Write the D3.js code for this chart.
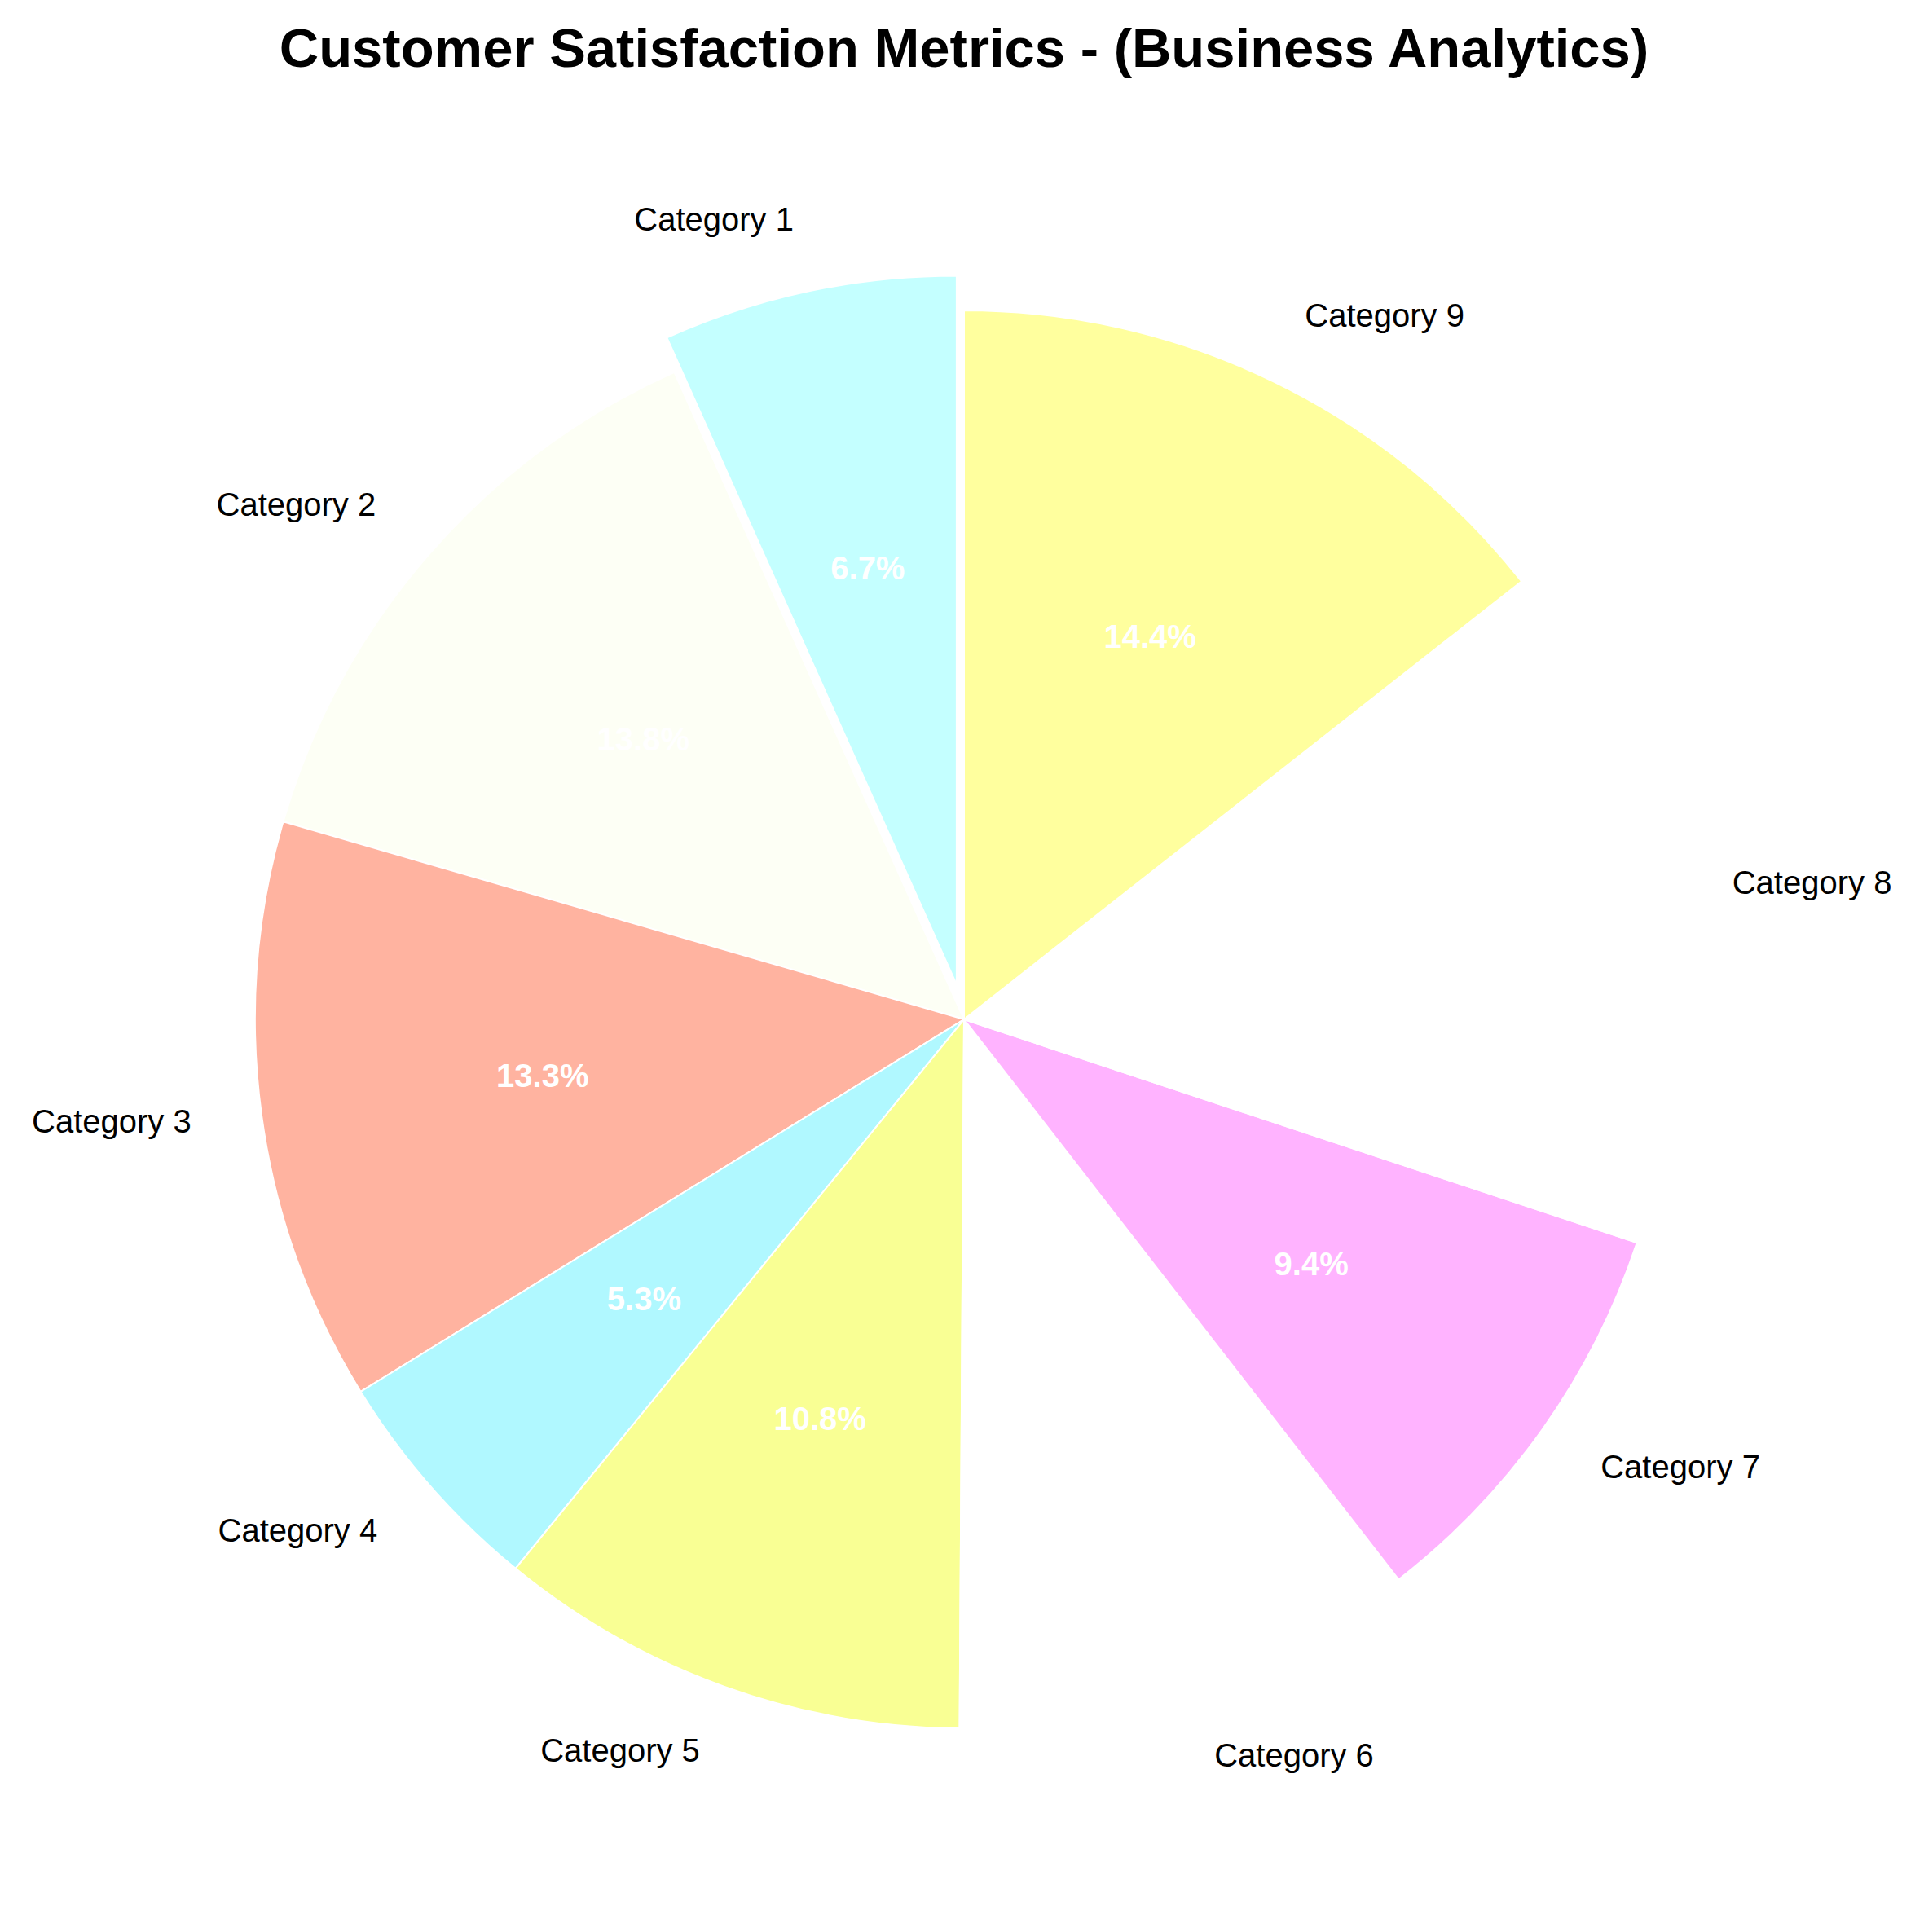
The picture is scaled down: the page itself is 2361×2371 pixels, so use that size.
<!DOCTYPE html>
<html>
<head>
<meta charset="utf-8">
<script src="https://cdn.jsdelivr.net/npm/d3@7"></script>
<style>
  html, body { margin: 0; padding: 0; background: #ffffff; }
  svg { display: block; }
</style>
</head>
<body>
<svg id="chart" width="2361" height="2371"></svg>
<script>
// ---- data ----
const categories = ["Category 1", "Category 2", "Category 3", "Category 4", "Category 5",
                    "Category 6", "Category 7", "Category 8", "Category 9"];
const values = [6.7, 13.8, 13.3, 5.3, 10.8, 10.6, 9.4, 15.7, 14.4];
const explodeFrac = [0.05, 0, 0, 0, 0, 0, 0, 0, 0];
const sliceColors = ["#C4FFFF", "#FDFFF5", "#FFB3A0", "#B0F8FF", "#F9FF94",
                     "#FFFFFF", "#FFB3FF", "#FFFFFF", "#FFFF9E"];
const titleText = "Customer Satisfaction Metrics - (Business Analytics)";

// ---- layout ----
const W = 2361, H = 2371;
const cx = 1183, cy = 1251, R = 870;
const svg = d3.select("#chart");

const color = d3.scaleOrdinal().domain(categories).range(sliceColors);

const data = categories.map((c, i) => ({ cat: c, value: values[i], explode: explodeFrac[i] }));
const total = d3.sum(values);

// matplotlib: start at 12 o'clock, counterclockwise
const pie = d3.pie().value(d => d.value).sort(null).startAngle(0).endAngle(-2 * Math.PI);
const arcs = pie(data);
const arc = d3.arc().innerRadius(0).outerRadius(R);

const g = svg.append("g").attr("transform", `translate(${cx},${cy})`);

function offsetOf(d) {
  const m = (d.startAngle + d.endAngle) / 2;
  const e = d.data.explode * R;
  return [Math.sin(m) * e, -Math.cos(m) * e];
}

g.selectAll("path.slice")
  .data(arcs)
  .enter().append("path")
  .attr("class", "slice")
  .attr("d", arc)
  .attr("transform", d => { const o = offsetOf(d); return `translate(${o[0]},${o[1]})`; })
  .attr("fill", d => color(d.data.cat))
  .attr("stroke", "#ffffff")
  .attr("stroke-width", 2)
  .attr("stroke-linejoin", "round");

const fontFamily = "'Liberation Sans', Arial, Helvetica, sans-serif";

// category labels at 1.1 R
g.selectAll("text.lab")
  .data(arcs)
  .enter().append("text")
  .attr("class", "lab")
  .each(function (d) {
    const m = (d.startAngle + d.endAngle) / 2;
    const o = offsetOf(d);
    const x = o[0] + Math.sin(m) * R * 1.1;
    const y = o[1] - Math.cos(m) * R * 1.1;
    d3.select(this)
      .attr("x", x)
      .attr("y", y + 10.5)
      .attr("text-anchor", x > 0 ? "start" : "end");
  })
  .attr("font-family", fontFamily)
  .attr("font-size", 40)
  .attr("fill", "#000000")
  .text(d => d.data.cat);

// percentage labels at 0.6 R
g.selectAll("text.pct")
  .data(arcs)
  .enter().append("text")
  .attr("class", "pct")
  .each(function (d) {
    const m = (d.startAngle + d.endAngle) / 2;
    const o = offsetOf(d);
    const x = o[0] + Math.sin(m) * R * 0.6;
    const y = o[1] - Math.cos(m) * R * 0.6;
    d3.select(this).attr("x", x).attr("y", y + 13);
  })
  .attr("text-anchor", "middle")
  .attr("font-family", fontFamily)
  .attr("font-size", 40)
  .attr("font-weight", "bold")
  .attr("fill", "#ffffff")
  .text(d => (d.data.value / total * 100).toFixed(1) + "%");

// title
svg.append("text")
  .attr("x", cx)
  .attr("y", 82)
  .attr("text-anchor", "middle")
  .attr("font-family", fontFamily)
  .attr("font-size", 67)
  .attr("font-weight", "bold")
  .attr("fill", "#000000")
  .text(titleText);
</script>
</body>
</html>
